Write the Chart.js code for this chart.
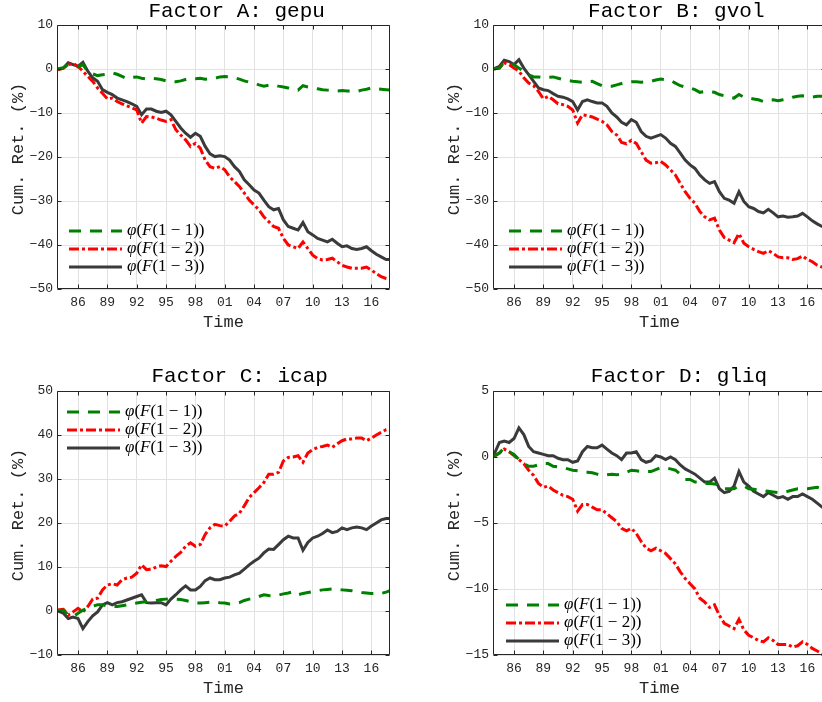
<!DOCTYPE html>
<html>
<head>
<meta charset="utf-8">
<script src="https://cdn.jsdelivr.net/npm/chart.js@4.4.0/dist/chart.umd.min.js"></script>
<style>
  html, body { margin: 0; padding: 0; background: #fff; overflow: hidden; }
  #wrap { position: relative; width: 822px; height: 702px; overflow: hidden; background: #fff; }
  #wrap canvas { position: absolute; }
</style>
</head>
<body>
<div id="wrap">
  <canvas id="cA" width="411" height="340" style="left:0px;top:0px"></canvas>
  <canvas id="cB" width="411" height="340" style="left:436px;top:0px"></canvas>
  <canvas id="cC" width="411" height="340" style="left:0px;top:366px"></canvas>
  <canvas id="cD" width="411" height="340" style="left:436px;top:366px"></canvas>
</div>
<script>
// time axis (fractional years), shared by all four panels
const years = [
  1983.85, 1984.5, 1985, 1985.5, 1986, 1986.5, 1987, 1987.5, 1988, 1988.5,
  1989, 1989.5, 1990, 1990.5, 1991, 1991.5, 1992, 1992.5, 1993, 1993.5,
  1994, 1994.5, 1995, 1995.5, 1996, 1996.5, 1997, 1997.5, 1998, 1998.5,
  1999, 1999.5, 2000, 2000.5, 2001, 2001.5, 2002, 2002.5, 2003, 2003.5,
  2004, 2004.5, 2005, 2005.5, 2006, 2006.5, 2007, 2007.5, 2008, 2008.5,
  2009, 2009.5, 2010, 2010.5, 2011, 2011.5, 2012, 2012.5, 2013, 2013.5,
  2014, 2014.5, 2015, 2015.5, 2016, 2016.5, 2017, 2017.5, 2017.9
];
const xTickYears = [1986, 1989, 1992, 1995, 1998, 2001, 2004, 2007, 2010, 2013, 2016];
const xTickLabels = ['86', '89', '92', '95', '98', '01', '04', '07', '10', '13', '16'];

const seriesLabels = ['φ(F(1 − 1))', 'φ(F(1 − 2))', 'φ(F(1 − 3))'];
const panelTitles = ['Factor A: gepu', 'Factor B: gvol', 'Factor C: icap', 'Factor D: gliq'];
const yTitle = 'Cum. Ret. (%)';
const xTitle = 'Time';

// Factor A
const gepu1 = [
  0, 0.3, 1.0, 0.8, 0.5, 1.0, -0.6, -1.1, -1.5, -1.3,
  -1.2, -0.9, -1.2, -1.7, -2.2, -1.9, -1.8, -2.1, -2.3, -2.1,
  -2.2, -2.4, -2.7, -2.9, -2.9, -2.7, -2.4, -2.2, -2.2, -2.1,
  -2.3, -2.2, -2.1, -1.8, -1.7, -1.8, -2.0, -2.3, -2.7, -3.0,
  -3.2, -3.6, -3.9, -3.7, -3.6, -3.9, -4.1, -4.3, -4.6, -4.8,
  -3.8, -4.1, -4.3, -4.5, -4.7, -4.8, -4.9, -5.0, -4.9, -5.0,
  -5.0, -5.1, -4.8, -4.6, -4.3, -4.5, -4.6, -4.7, -4.8
];
const gepu2 = [
  -0.2, 0.2, 1.0, 1.3, 0.6, -0.5, -1.7, -2.8, -4.3, -5.5,
  -6.8, -6.6, -7.4, -7.9, -8.4, -8.8, -9.3, -12.3, -10.8, -10.9,
  -11.2, -11.6, -11.9, -11.5, -13.8, -15.0, -16.1, -17.6, -16.9, -18.0,
  -20.7, -22.2, -22.6, -22.2, -22.9, -24.5, -25.6, -26.7, -28.2, -29.8,
  -30.9, -32.0, -33.6, -34.7, -35.8, -36.2, -38.5, -40.0, -40.4, -40.8,
  -39.3, -40.8, -42.3, -43.1, -43.4, -43.3, -43.0, -43.8, -44.6, -45.0,
  -45.3, -45.3, -45.3, -45.0, -45.7, -46.5, -47.2, -47.6, -47.8
];
const gepu3 = [
  -0.2, 0.2, 1.4, 1.0, 0.6, 1.5, -0.5, -2.0, -2.8, -4.7,
  -5.3, -5.8, -6.6, -7.0, -7.4, -7.9, -8.5, -10.4, -9.1, -9.1,
  -9.6, -9.9, -9.6, -10.4, -11.9, -13.4, -14.6, -15.5, -14.6, -15.3,
  -17.6, -19.3, -19.9, -19.7, -19.9, -20.7, -22.2, -23.3, -25.2, -26.3,
  -27.5, -28.2, -29.8, -31.3, -32.0, -31.7, -34.3, -35.8, -36.2, -36.6,
  -34.9, -37.0, -37.7, -38.5, -38.9, -39.3, -38.7, -39.6, -40.4, -40.2,
  -40.8, -41.0, -40.8, -40.4, -41.3, -42.1, -42.7, -43.3, -43.3
];

// Factor B
const gvol1 = [
  0, 0.2, 1.5, 1.2, 1.0, 0.2, -0.5, -1.3, -1.8, -1.8,
  -2.0, -1.9, -1.8, -2.1, -2.4, -2.6, -2.8, -2.9, -3.0, -2.9,
  -2.8, -3.3, -3.8, -3.9, -3.9, -3.6, -3.3, -3.0, -2.9, -2.9,
  -3.0, -2.9, -2.8, -2.5, -2.3, -2.4, -2.6, -3.2, -3.8, -4.1,
  -4.3, -4.7, -5.3, -5.1, -5.2, -5.3, -5.8, -6.1, -6.4, -6.6,
  -5.8, -6.4, -6.6, -6.8, -7.0, -7.4, -7.1, -7.0, -7.2, -7.0,
  -6.8, -6.4, -6.2, -6.1, -6.2, -6.4, -6.2, -6.2, -6.3
];
const gvol2 = [
  0, 0.2, 1.4, 1.0, 0.2, -0.5, -2.0, -3.2, -3.8, -5.1,
  -6.8, -6.2, -7.0, -7.9, -8.1, -8.5, -9.3, -12.3, -10.4, -10.6,
  -10.9, -11.4, -11.9, -12.7, -14.2, -15.0, -16.7, -17.0, -16.2, -16.9,
  -18.8, -20.7, -21.4, -21.3, -21.0, -21.8, -22.9, -24.1, -26.0, -27.9,
  -29.4, -30.5, -32.4, -33.6, -34.3, -33.9, -36.6, -38.3, -38.9, -39.5,
  -37.4, -39.6, -40.4, -41.0, -41.5, -41.9, -41.3, -41.9, -42.7, -42.9,
  -42.9, -43.3, -43.1, -42.5, -43.3, -43.8, -44.6, -45.0, -45.5
];
const gvol3 = [
  0, 0.6, 2.0, 1.7, 1.0, 2.1, 0.2, -1.3, -2.8, -4.3,
  -4.7, -4.9, -5.6, -6.2, -6.4, -6.8, -7.4, -9.3, -7.4, -7.0,
  -7.4, -7.7, -7.7, -8.5, -10.0, -10.9, -12.1, -12.7, -11.5, -12.1,
  -14.2, -15.3, -15.7, -15.3, -14.9, -15.7, -16.9, -17.6, -19.1, -20.7,
  -21.8, -22.6, -24.1, -25.2, -26.0, -25.6, -27.9, -29.4, -29.8, -30.5,
  -27.9, -30.1, -31.3, -31.7, -32.4, -32.7, -31.9, -32.7, -33.6, -33.4,
  -33.7, -33.6, -33.4, -32.8, -33.6, -34.5, -35.2, -35.8, -36.2
];

// Factor C
const icap1 = [
  0, 0.2, -0.9, -1.3, -0.5, 0.2, 0.6, 1.1, 1.4, 1.4,
  1.1, 1.0, 1.0, 1.2, 1.4, 1.6, 1.8, 2.0, 2.1, 2.2,
  2.4, 2.6, 2.7, 2.8, 2.7, 2.6, 2.4, 2.1, 1.8, 1.8,
  1.9, 2.0, 2.1, 1.9, 1.8, 1.6, 1.6, 1.9, 2.4, 2.7,
  2.9, 3.3, 3.7, 3.5, 3.4, 3.6, 3.9, 4.1, 4.4, 3.7,
  4.0, 4.2, 4.4, 4.6, 4.8, 4.9, 5.0, 4.9, 4.8, 4.7,
  4.6, 4.4, 4.2, 4.1, 4.0, 4.0, 4.0, 4.3, 4.6
];
const icap2 = [
  0.2, 0.4, -0.9, -0.2, 0.6, -0.2, 1.0, 2.7, 2.9, 4.8,
  5.9, 6.2, 5.9, 7.1, 7.5, 7.7, 8.6, 10.5, 9.4, 9.5,
  10.0, 10.3, 10.1, 11.3, 12.4, 13.3, 14.7, 15.5, 14.7, 15.1,
  17.4, 18.9, 19.7, 19.4, 19.3, 20.4, 21.6, 22.2, 23.9, 25.8,
  26.9, 28.0, 29.2, 31.1, 31.1, 31.5, 34.1, 34.9, 35.0, 35.3,
  33.8, 35.9, 36.7, 37.2, 37.4, 37.7, 37.2, 38.0, 38.7, 39.1,
  39.1, 39.3, 39.3, 38.7, 39.3, 40.0, 40.6, 41.2, 41.4
];
const icap3 = [
  0.1, -0.5, -1.7, -1.4, -1.7, -4.0, -2.4, -1.1, -0.2, 1.4,
  1.9, 1.4, 1.9, 2.1, 2.5, 2.9, 3.3, 3.7, 1.9, 1.8,
  1.9, 1.9, 1.4, 2.7, 3.7, 4.8, 5.7, 4.8, 4.8, 5.6,
  6.9, 7.5, 7.1, 7.1, 7.5, 7.7, 8.2, 8.6, 9.5, 10.5,
  11.3, 12.0, 13.2, 14.1, 14.0, 15.1, 16.2, 17.0, 16.6, 16.6,
  13.8, 15.6, 16.6, 17.0, 17.6, 18.4, 17.8, 18.1, 18.9, 18.5,
  18.9, 19.1, 18.9, 18.5, 19.3, 20.0, 20.7, 21.0, 21.0
];

// Factor D
const gliq1 = [
  0, 0.3, 0.7, 0.4, 0.2, -0.2, -0.5, -0.7, -0.7, -0.6,
  -0.5, -0.5, -0.7, -0.75, -0.8, -0.9, -1.0, -1.05, -1.1, -1.15,
  -1.2, -1.3, -1.4, -1.35, -1.3, -1.35, -1.3, -1.15, -1.0, -1.05,
  -1.1, -1.1, -1.1, -0.95, -0.8, -0.85, -0.9, -1.0, -1.3, -1.7,
  -1.7, -1.9, -1.9, -2.0, -2.0, -2.05, -2.1, -2.4, -2.4, -2.4,
  -2.2, -2.2, -2.4, -2.45, -2.5, -2.55, -2.6, -2.65, -2.7, -2.65,
  -2.6, -2.5, -2.4, -2.4, -2.4, -2.35, -2.3, -2.4, -2.4
];
const gliq2 = [
  0, 0.3, 0.6, 0.4, 0.1, -0.2, -0.5, -1.0, -1.4, -2.0,
  -2.3, -2.2, -2.5, -2.7, -2.9, -3.0, -3.2, -4.1, -3.6, -3.6,
  -3.8, -4.0, -4.0, -4.3, -4.6, -4.9, -5.4, -5.6, -5.4, -5.8,
  -6.4, -6.9, -7.1, -6.9, -7.1, -7.3, -7.7, -8.1, -8.7, -9.2,
  -9.6, -10.0, -10.7, -11.0, -11.4, -11.2, -12.0, -12.6, -12.8, -13.0,
  -12.3, -13.1, -13.5, -13.7, -13.9, -14.0, -13.7, -13.9, -14.2, -14.2,
  -14.2, -14.4, -14.3, -14.0, -14.2, -14.5, -14.7, -14.9, -15.1
];
const gliq3 = [
  0, 1.1, 1.2, 1.1, 1.4, 2.2, 1.7, 0.8, 0.4, 0.3,
  0.2, 0.1, 0.1, -0.1, -0.2, -0.2, -0.4, -0.3, 0.4, 0.8,
  0.7, 0.7, 0.9, 0.6, 0.3, 0.1, -0.2, 0.3, 0.3, 0.4,
  -0.2, -0.4, -0.3, 0.1, 0.0, -0.2, 0.0, -0.2, -0.6, -0.9,
  -1.1, -1.3, -1.6, -1.9, -1.9, -1.6, -2.4, -2.7, -2.6, -2.2,
  -1.1, -1.9, -2.2, -2.6, -2.8, -3.0, -2.7, -2.9, -3.1, -3.0,
  -3.2, -3.0, -3.0, -2.8, -3.0, -3.2, -3.5, -3.8, -4.0
];

const MONO = '"Liberation Mono", "DejaVu Sans Mono", monospace';
const SERIF = '"Liberation Serif", "DejaVu Serif", serif';
const AXIS_COLOR = '#262626';
const GRID_COLOR = '#e2e2e2';
const lineStyles = [
  { color: '#008000', dash: [12, 9] },
  { color: '#ff0000', dash: [10, 3, 3, 3] },
  { color: '#3a3a3a', dash: [] }
];

// panel title and the rotated y label, drawn at fixed spots
const titlePlugin = {
  id: 'panelTitle',
  afterDraw(chart, args, opts) {
    const { ctx, chartArea } = chart;
    ctx.save();
    ctx.font = '21px ' + MONO;
    ctx.fillStyle = '#000';
    ctx.textAlign = 'center';
    ctx.textBaseline = 'middle';
    ctx.fillText(opts.text, opts.x, opts.y);

    // MATLAB sets its ylabel a little above the axis middle
    ctx.translate(18, (chartArea.top + chartArea.bottom) / 2 - 8);
    ctx.rotate(-Math.PI / 2);
    ctx.font = '17px ' + MONO;
    ctx.fillStyle = AXIS_COLOR;
    ctx.fillText(yTitle, 0, 0);
    ctx.restore();
  }
};

// box round the plot with inward tick marks on all four sides
const framePlugin = {
  id: 'boxFrame',
  afterDraw(chart) {
    const { ctx, chartArea: a, scales } = chart;
    const L = Math.round(a.left) + 0.5, R = Math.round(a.right) - 0.5;
    const T = Math.round(a.top) + 0.5, B = Math.round(a.bottom) - 0.5;
    ctx.save();
    ctx.strokeStyle = AXIS_COLOR;
    ctx.lineWidth = 1;
    ctx.beginPath();
    ctx.rect(L, T, R - L, B - T);
    scales.x.ticks.forEach(t => {
      const px = Math.round(scales.x.getPixelForValue(t.value)) + 0.5;
      ctx.moveTo(px, B); ctx.lineTo(px, B - 4);
      ctx.moveTo(px, T); ctx.lineTo(px, T + 4);
    });
    scales.y.ticks.forEach(t => {
      const py = Math.round(scales.y.getPixelForValue(t.value)) + 0.5;
      ctx.moveTo(L, py); ctx.lineTo(L + 4, py);
      ctx.moveTo(R, py); ctx.lineTo(R - 4, py);
    });
    ctx.stroke();
    ctx.restore();
  }
};

// legend inside the axes, no box; φ and F set in italics
const legendPlugin = {
  id: 'phiLegend',
  afterDatasetsDraw(chart, args, opts) {
    const { ctx, chartArea } = chart;
    const x0 = chartArea.left + opts.x;
    let y = chartArea.top + opts.y;
    chart.data.datasets.forEach(ds => {
      ctx.save();
      ctx.strokeStyle = ds.borderColor;
      ctx.lineWidth = ds.borderWidth;
      ctx.setLineDash(ds.borderDash || []);
      ctx.beginPath();
      ctx.moveTo(x0, y);
      ctx.lineTo(x0 + 53, y);
      ctx.stroke();
      ctx.setLineDash([]);
      ctx.fillStyle = '#000';
      ctx.textBaseline = 'middle';
      let tx = x0 + 58;
      for (const ch of ds.label) {
        const ital = ch === 'φ' || ch === 'F';
        ctx.font = (ital ? 'italic ' : '') + '17px ' + SERIF;
        ctx.fillText(ch, tx, y);
        tx += ctx.measureText(ch).width;
      }
      ctx.restore();
      y += 18;
    });
  }
};

function makePanel(id, title, series, yMin, yMax, yStep, legendPos) {
  const datasets = series.map((vals, i) => ({
    label: seriesLabels[i],
    data: years.map((t, k) => ({ x: t, y: vals[k] })),
    borderColor: lineStyles[i].color,
    borderDash: lineStyles[i].dash,
    borderWidth: 3,
    pointRadius: 0,
    tension: 0,
    fill: false
  }));

  return new Chart(document.getElementById(id), {
    type: 'line',
    data: { datasets },
    plugins: [titlePlugin, framePlugin, legendPlugin],
    options: {
      responsive: false,
      animation: false,
      layout: { padding: { left: 0, right: 21, top: 25, bottom: 0 } },
      plugins: {
        legend: { display: false },
        tooltip: { enabled: false },
        panelTitle: title,
        phiLegend: legendPos
      },
      scales: {
        x: {
          type: 'linear',
          min: 1983.85,
          max: 2017.9,
          afterBuildTicks: ax => { ax.ticks = xTickYears.map(v => ({ value: v })); },
          afterFit: ax => { ax.height = 51; },
          ticks: {
            autoSkip: false,
            maxRotation: 0,
            padding: 6,
            color: AXIS_COLOR,
            font: { family: MONO, size: 13 },
            callback: v => xTickLabels[xTickYears.indexOf(v)]
          },
          grid: { color: GRID_COLOR, drawTicks: false },
          border: { display: false },
          title: {
            display: true,
            text: xTitle,
            color: AXIS_COLOR,
            font: { family: MONO, size: 17 },
            padding: { top: 0, bottom: 7 }
          }
        },
        y: {
          min: yMin,
          max: yMax,
          afterFit: ax => { ax.width = 57; },
          ticks: {
            stepSize: yStep,
            padding: 4,
            color: AXIS_COLOR,
            font: { family: MONO, size: 13 },
            callback: v => String(v).replace('-', '\u2212')
          },
          grid: { color: GRID_COLOR, drawTicks: false },
          border: { display: false }
        }
      }
    }
  });
}

makePanel('cA', { text: panelTitles[0], x: 236.7, y: 11 }, [gepu1, gepu2, gepu3], -50, 10, 10, { x: 12, y: 206 });
makePanel('cB', { text: panelTitles[1], x: 240.3, y: 11 }, [gvol1, gvol2, gvol3], -50, 10, 10, { x: 16, y: 206 });
makePanel('cC', { text: panelTitles[2], x: 239.7, y: 10 }, [icap1, icap2, icap3], -10, 50, 10, { x: 10, y: 21 });
makePanel('cD', { text: panelTitles[3], x: 243, y: 10 }, [gliq1, gliq2, gliq3], -15, 5, 5, { x: 13, y: 214 });
</script>
</body>
</html>
